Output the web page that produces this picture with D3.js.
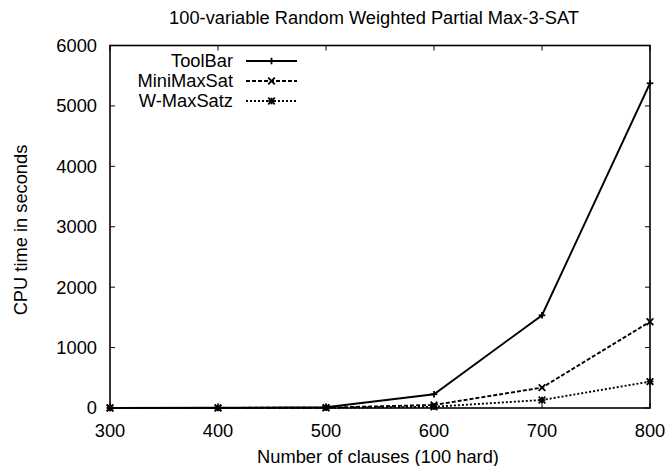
<!DOCTYPE html>
<html><head><meta charset="utf-8">
<script src="https://d3js.org/d3.v7.min.js"></script>
<style>
body{margin:0;background:#fff;}
text{font-family:"Liberation Sans",Arial,sans-serif;fill:#000;}
</style></head>
<body><svg id="c" width="668" height="466"></svg>
<script>
const clauses = [300, 400, 500, 600, 700, 800];
const toolbar = [2, 3, 12, 228, 1535, 5375];
const minimaxsat = [1, 2, 6, 50, 338, 1428];
const wmaxsatz = [0, 1, 3, 20, 132, 437];
const seriesNames = ["ToolBar", "MiniMaxSat", "W-MaxSatz"];
const xTicks = [300, 400, 500, 600, 700, 800];
const yTicks = [0, 1000, 2000, 3000, 4000, 5000, 6000];
const titleText = "100-variable Random Weighted Partial Max-3-SAT";
const xLabel = "Number of clauses (100 hard)";
const yLabel = "CPU time in seconds";

const svg = d3.select("#c");
const L = 110, R = 650, T = 45.5, B = 408;
const x = d3.scaleLinear().domain([300, 800]).range([L, R]);
const y = d3.scaleLinear().domain([0, 6000]).range([B, T]);
const fs = 18.3;

svg.append("text").attr("x", 374).attr("y", 24).attr("text-anchor", "middle")
  .style("font-size", fs + "px").text(titleText);

const tl = 5;
const g = svg.append("g").attr("stroke", "#000").attr("stroke-width", 1);
xTicks.forEach(v => {
  g.append("line").attr("x1", x(v)).attr("x2", x(v)).attr("y1", B).attr("y2", B - tl);
  g.append("line").attr("x1", x(v)).attr("x2", x(v)).attr("y1", T).attr("y2", T + tl);
});
yTicks.forEach(v => {
  g.append("line").attr("x1", L).attr("x2", L + tl).attr("y1", y(v)).attr("y2", y(v));
  g.append("line").attr("x1", R).attr("x2", R - tl).attr("y1", y(v)).attr("y2", y(v));
});
xTicks.forEach(v => {
  svg.append("text").attr("x", x(v)).attr("y", 437).attr("text-anchor", "middle")
    .style("font-size", fs + "px").text(v);
});
yTicks.forEach(v => {
  svg.append("text").attr("x", 97).attr("y", y(v)).attr("dy", "0.35em").attr("text-anchor", "end")
    .style("font-size", fs + "px").text(v);
});
svg.append("text").attr("x", 378).attr("y", 463).attr("text-anchor", "middle")
  .style("font-size", fs + "px").text(xLabel);
svg.append("text").attr("transform", "translate(27,230) rotate(-90)").attr("text-anchor", "middle")
  .style("font-size", fs + "px").text(yLabel);

svg.append("rect").attr("x", L).attr("y", T).attr("width", R - L).attr("height", B - T)
  .attr("fill", "none").attr("stroke", "#000").attr("stroke-width", 1.6);

const series = [
  {name: seriesNames[0], vals: toolbar, dash: null, mk: "plus"},
  {name: seriesNames[1], vals: minimaxsat, dash: "4,2", mk: "cross"},
  {name: seriesNames[2], vals: wmaxsatz, dash: "2,2", mk: "star"}
];
const line = d3.line().x(d => x(d[0])).y(d => y(d[1]));
function marker(sel, cx, cy, type) {
  const s = 3.3;
  const gg = sel.append("g").attr("stroke", "#000").attr("stroke-width", 1.8);
  if (type === "plus" || type === "star") {
    gg.append("line").attr("x1", cx - s).attr("x2", cx + s).attr("y1", cy).attr("y2", cy);
    gg.append("line").attr("x1", cx).attr("x2", cx).attr("y1", cy - s).attr("y2", cy + s);
  }
  if (type === "cross" || type === "star") {
    gg.append("line").attr("x1", cx - s).attr("x2", cx + s).attr("y1", cy - s).attr("y2", cy + s);
    gg.append("line").attr("x1", cx - s).attr("x2", cx + s).attr("y1", cy + s).attr("y2", cy - s);
  }
}
series.forEach((s, i) => {
  const pts = clauses.map((c, j) => [c, s.vals[j]]);
  const p = svg.append("path").attr("d", line(pts)).attr("fill", "none")
    .attr("stroke", "#000").attr("stroke-width", 1.9);
  if (s.dash) p.attr("stroke-dasharray", s.dash);
  pts.forEach(d => marker(svg, x(d[0]), y(d[1]), s.mk));
  const ly = 61 + i * 20;
  svg.append("text").attr("x", 233).attr("y", ly).attr("dy", "0.35em").attr("text-anchor", "end")
    .style("font-size", fs + "px").text(s.name);
  const ll = svg.append("line").attr("x1", 246).attr("x2", 297).attr("y1", ly).attr("y2", ly)
    .attr("stroke", "#000").attr("stroke-width", 1.9);
  if (s.dash) ll.attr("stroke-dasharray", s.dash);
  marker(svg, 271.5, ly, s.mk);
});
</script></body></html>
